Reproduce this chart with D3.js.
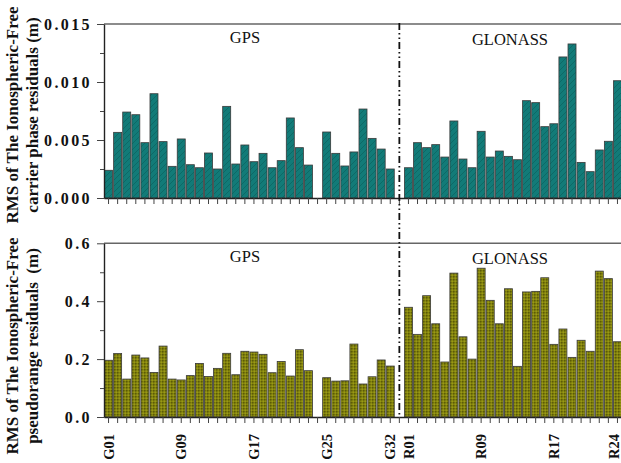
<!DOCTYPE html>
<html>
<head>
<meta charset="utf-8">
<script src="https://cdn.jsdelivr.net/npm/d3@7"></script>
<style>
  html, body { margin: 0; padding: 0; background: #fff; }
  svg { display: block; }
</style>
</head>
<body>
<svg id="chart" width="621" height="463"></svg>
<script>
// ---- data ----
const gpsSats = d3.range(1, 33).map(i => "G" + String(i).padStart(2, "0"));
const glonassSats = d3.range(1, 25).map(i => "R" + String(i).padStart(2, "0"));
const categories = [...gpsSats, "gap", ...glonassSats];
const tickLabels = ["G01", "G09", "G17", "G25", "G32", "R01", "R09", "R17", "R24"];

const gpsPhase = [0.00239, 0.00566, 0.00741, 0.00718, 0.00477, 0.00899, 0.00486, 0.00273,
  0.00509, 0.00287, 0.00261, 0.00388, 0.00250, 0.00790, 0.00293, 0.00457,
  0.00313, 0.00385, 0.00261, 0.00322, 0.00690, 0.00434, 0.00284, null,
  0.00569, 0.00385, 0.00276, 0.00397, 0.00767, 0.00514, 0.00422, 0.00250];
const glonassPhase = [0.00261, 0.00477, 0.00434, 0.00460, 0.00353, 0.00664, 0.00336, 0.00261,
  0.00575, 0.00353, 0.00405, 0.00359, 0.00330, 0.00839, 0.00822, 0.00615,
  0.00640, 0.01216, 0.01328, 0.00307, 0.00227, 0.00414, 0.00489, 0.01011];
const gpsCode = [0.196, 0.219, 0.131, 0.214, 0.204, 0.154, 0.245, 0.131,
  0.128, 0.143, 0.185, 0.140, 0.168, 0.220, 0.146, 0.227,
  0.2245, 0.2165, 0.153, 0.192, 0.1416, 0.2325, 0.160, null,
  0.1358, 0.124, 0.125, 0.252, 0.114, 0.139, 0.197, 0.176];
const glonassCode = [0.379, 0.2855, 0.419, 0.322, 0.190, 0.497, 0.277, 0.200,
  0.514, 0.403, 0.322, 0.443, 0.175, 0.432, 0.434, 0.481,
  0.251, 0.304, 0.206, 0.265, 0.227, 0.504, 0.478, 0.260];

const phaseTicks = [0, 0.005, 0.010, 0.015];
const phaseMinor = [0.0025, 0.0075, 0.0125];
const codeTicks = [0, 0.2, 0.4, 0.6];
const codeMinor = [0.1, 0.3, 0.5];

// ---- build ----
const svg = d3.select("#chart");
const defs = svg.append("defs");

const hatch = defs.append("pattern").attr("id", "hatch").attr("patternUnits", "userSpaceOnUse")
  .attr("width", 6).attr("height", 6);
hatch.append("rect").attr("width", 6).attr("height", 6).attr("fill", "#127b78");
hatch.append("path").attr("d", "M-1,7 L7,-1 M-1,1 L1,-1 M5,7 L7,5")
  .attr("stroke", "#0c625f").attr("stroke-width", 0.7);

const cross = defs.append("pattern").attr("id", "cross").attr("patternUnits", "userSpaceOnUse")
  .attr("width", 3).attr("height", 3);
cross.append("rect").attr("width", 3).attr("height", 3).attr("fill", "#82820c");
cross.append("rect").attr("x", 0).attr("y", 0).attr("width", 1.5).attr("height", 1.5).attr("fill", "#5a5a08");
cross.append("rect").attr("x", 1.5).attr("y", 1.5).attr("width", 1.5).attr("height", 1.5).attr("fill", "#999918");

const x = d3.scaleBand().domain(categories).range([104, 622]).paddingInner(0.12).paddingOuter(0.06);

const serif = "'Liberation Serif', 'Times New Roman', serif";

function panel(cfg) {
  const y = d3.scaleLinear().domain(cfg.domain).range([cfg.bottom, cfg.top]);
  const g = svg.append("g");

  const rows = [];
  gpsSats.forEach((s, i) => { if (cfg.gps[i] != null) rows.push({ cat: s, v: cfg.gps[i] }); });
  glonassSats.forEach((s, i) => { if (cfg.glo[i] != null) rows.push({ cat: s, v: cfg.glo[i] }); });

  g.selectAll("rect.bar").data(rows).join("rect").attr("class", "bar")
    .attr("x", d => x(d.cat)).attr("width", x.bandwidth())
    .attr("y", d => y(d.v)).attr("height", d => y(0) - y(d.v))
    .attr("fill", cfg.fill).attr("stroke", "#3a3a3a").attr("stroke-width", 0.8);

  // top border
  g.append("line").attr("x1", 104).attr("x2", 630).attr("y1", cfg.top).attr("y2", cfg.top)
    .attr("stroke", "#666").attr("stroke-width", 1.6);

  // x axis
  const xa = d3.axisBottom(x).tickSize(6).tickSizeOuter(0)
    .tickFormat(d => cfg.labels && tickLabels.includes(d) ? d : "");
  const xg = g.append("g").attr("transform", `translate(0,${cfg.bottom})`).call(xa);
  xg.select(".domain").attr("stroke", "#222").attr("stroke-width", 1.4);
  xg.selectAll(".tick line").attr("stroke", "#444").attr("stroke-width", 1);
  xg.selectAll(".tick text")
    .attr("transform", "rotate(-90)")
    .attr("text-anchor", "end")
    .attr("x", -17).attr("y", d => d === "R24" ? -4 : 0).attr("dy", "0.35em")
    .attr("font-family", serif).attr("font-weight", "bold").attr("font-size", 14.5)
    .attr("fill", "#111");

  // y axis
  const ya = d3.axisLeft(y).tickValues(cfg.ticks).tickSize(7).tickSizeOuter(0).tickFormat(d3.format(cfg.fmt));
  const yg = g.append("g").attr("transform", "translate(104,0)").call(ya);
  yg.select(".domain").attr("stroke", "#222").attr("stroke-width", 1.4);
  yg.selectAll(".tick line").attr("stroke", "#444");
  yg.selectAll(".tick text").attr("x", -12)
    .attr("font-family", serif).attr("font-weight", "bold").attr("font-size", 16)
    .attr("letter-spacing", cfg.ls).attr("fill", "#111");
  const ym = d3.axisLeft(y).tickValues(cfg.minor).tickSize(4).tickFormat("");
  const ymg = g.append("g").attr("transform", "translate(104,0)").call(ym);
  ymg.select(".domain").remove();
  ymg.selectAll(".tick line").attr("stroke", "#444");

  // y title
  const tg = g.append("text").attr("transform", `translate(0,${cfg.titleY}) rotate(-90)`)
    .attr("text-anchor", "middle").attr("font-family", serif).attr("font-weight", "bold")
    .attr("font-size", 17).attr("fill", "#111");
  tg.append("tspan").attr("x", 0).attr("y", 18).text("RMS of The Ionospheric-Free");
  tg.append("tspan").attr("x", 0).attr("y", 38).attr("xml:space", "preserve").text(cfg.title2);

  // system labels
  g.append("text").attr("x", 245).attr("y", cfg.top + 19).attr("text-anchor", "middle")
    .attr("font-family", serif).attr("font-size", 16.5).attr("fill", "#111").text("GPS");
  g.append("text").attr("x", 510).attr("y", cfg.top + 21).attr("text-anchor", "middle")
    .attr("font-family", serif).attr("font-size", 16.5).attr("fill", "#111").text("GLONASS");
}

panel({ domain: [0, 0.015], top: 24, bottom: 198, gps: gpsPhase, glo: glonassPhase, fill: "url(#hatch)",
  ticks: phaseTicks, minor: phaseMinor, fmt: ".3f", labels: false, titleY: 115,
  title2: "carrier phase residuals (m)", ls: 2.4 });
panel({ domain: [0, 0.6], top: 243.3, bottom: 417, gps: gpsCode, glo: glonassCode, fill: "url(#cross)",
  ticks: codeTicks, minor: codeMinor, fmt: ".1f", labels: true, titleY: 346,
  title2: "pseudorange residuals  (m)", ls: 2.4 });

// divider between GPS and GLONASS
const xd = x("gap") + x.bandwidth() / 2;
svg.append("line").attr("x1", xd).attr("x2", xd).attr("y1", 23).attr("y2", 417)
  .attr("stroke", "#111").attr("stroke-width", 1.8).attr("stroke-dasharray", "7,3,1.5,3,1.5,3");
</script>
</body>
</html>
